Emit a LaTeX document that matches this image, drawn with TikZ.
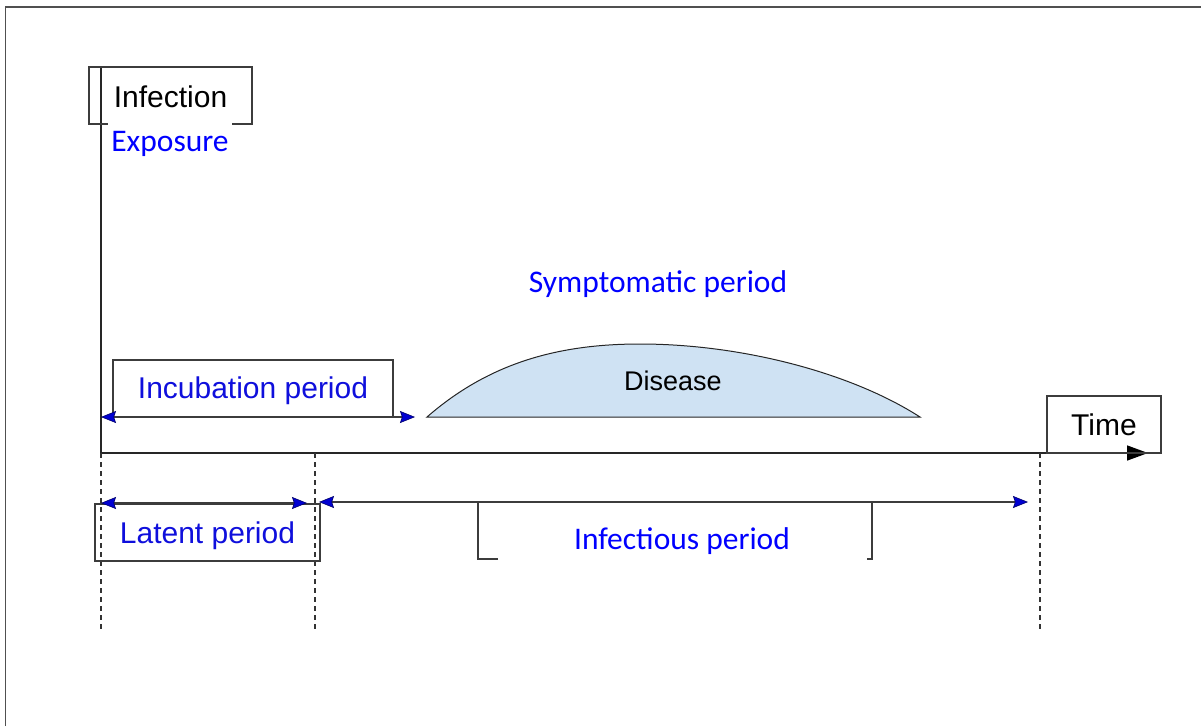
\documentclass[tikz,border=0pt]{standalone}
\usepackage{fontspec}
\usetikzlibrary{arrows.meta}
\newfontfamily\arialf{Liberation Sans}
\newfontfamily\calf{Carlito}
\definecolor{boxgray}{RGB}{60,60,60}
\definecolor{framegray}{RGB}{80,80,80}
\definecolor{labelblue}{RGB}{15,15,220}
\definecolor{calblue}{RGB}{0,0,255}
\definecolor{tipblue}{RGB}{0,0,210}
\definecolor{diseasefill}{RGB}{207,226,243}

\tikzset{
  outline/.style={draw=boxgray, line width=1.3pt},
  labelbox/.style={outline, inner sep=0pt, font=\arialf\fontsize{30}{36}\selectfont},
  caltext/.style={inner sep=0pt, font=\calf\fontsize{31.5}{38}\selectfont, text=calblue},
  bluetip/.tip={Stealth[length=15pt,width=12pt,inset=2pt,line width=0.6pt,color=tipblue!50!black,fill=tipblue]},
  span/.style={draw=boxgray, line width=1.3pt, {bluetip}-{bluetip}},
  guide/.style={draw=black!80, line width=1.2pt, dash pattern=on 5pt off 4pt},
  axis/.style={draw=black!85, line width=1.5pt},
}

\begin{document}
\begin{tikzpicture}[x=1pt,y=-1pt]
  \useasboundingbox (0,0) rectangle (1201,726);

  % outer frame (top and left edges)
  \draw[draw=framegray, line width=1.2pt] (5.5,726) -- (5.5,7) -- (1201,7);

  % axes
  \coordinate (origin) at (101,453);
  \coordinate (ytop) at (101,67);
  \coordinate (tend) at (1148,453);
  \draw[axis] (ytop) -- (origin);
  \draw[axis, -{Triangle[length=21pt,width=15pt,color=black]}] (origin) -- (tend);

  % Infection / Exposure at the top of the vertical axis
  \node[labelbox, minimum width=163pt, minimum height=57pt, text height=23pt, text depth=0pt]
    (inf) at (170.5,95.5) {Infection};
  \node[caltext, fill=white, minimum width=124pt, text height=28pt, text depth=8pt]
    (exp) at (170,141) {Exposure};

  % Time label on the horizontal axis
  \node[labelbox, minimum width=114pt, minimum height=57pt, text height=21pt, text depth=0pt]
    (time) at (1104,424.5) {Time};

  % vertical guides below the axis
  \coordinate (g1a) at (101,453);  \coordinate (g1b) at (101,632);
  \coordinate (g2a) at (315,453);  \coordinate (g2b) at (315,632);
  \coordinate (g3a) at (1040,453); \coordinate (g3b) at (1040,632);
  \draw[guide] (g1a) -- (g1b);
  \draw[guide] (g2a) -- (g2b);
  \draw[guide] (g3a) -- (g3b);

  % incubation period
  \node[labelbox, text=labelblue, minimum width=280pt, minimum height=57pt, text height=22pt, text depth=3pt]
    (inc) at (253,388.5) {Incubation period};
  \coordinate (incL) at (101,417);
  \coordinate (incR) at (415,417);
  \draw[span] (incL) -- (incR);

  % disease curve
  \draw[fill=diseasefill, draw=black!85, line width=1pt]
    (427,417) .. controls (490,362) and (560,344) .. (640,344)
    .. controls (740,344) and (850,372) .. (920,417) -- cycle;
  \node[inner sep=0pt, anchor=base, font=\arialf\fontsize{27}{32}\selectfont] (dis) at (673,390) {Disease};

  % symptomatic period
  \node[caltext, anchor=base] (sym) at (658,292) {Symptomatic period};

  % latent period
  \node[labelbox, text=labelblue, minimum width=225pt, minimum height=57pt, text height=22pt, text depth=1pt]
    (lat) at (207.5,532.5) {Latent period};
  \coordinate (latL) at (101,503);
  \coordinate (latR) at (307,503);
  \draw[span, line width=1.8pt] (latL) -- (latR);

  % infectious period
  \coordinate (infL) at (319,502);
  \coordinate (infR) at (1028,502);
  \draw[span] (infL) -- (infR);
  \draw[outline] (498,559) -- (478,559) -- (478,502) -- (872,502) -- (872,559) -- (867,559);
  \node[caltext, anchor=base] (infp) at (682,549) {Infectious period};
\end{tikzpicture}
\end{document}
